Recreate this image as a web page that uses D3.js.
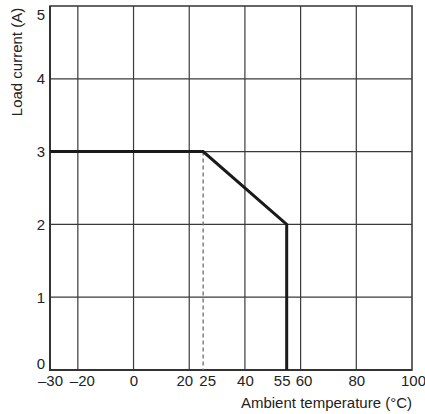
<!doctype html>
<html lang="en">
<head>
  <meta charset="UTF-8">
  <title>Load current vs ambient temperature</title>
  <script src="https://cdnjs.cloudflare.com/ajax/libs/d3/7.8.5/d3.min.js"></script>
  <style>
  html, body { margin: 0; padding: 0; background: #fff; }
  svg { display: block; font-family: "Liberation Sans", Arial, Helvetica, sans-serif; }
  </style>
</head>
<body>
<script>

// derating curve: [ambient temperature, load current]
var curveTemp = [-30, 25, 55, 55];
var curveCurrent = [3, 3, 2, 0];

// dashed marker at 25 °C
var markerTemp = [25, 25];
var markerCurrent = [3, 0];

var xTicks = [-30, -20, 0, 20, 25, 40, 55, 60, 80, 100];
var xGrid = [-20, 0, 20, 40, 60, 80];
var yTicks = [0, 1, 2, 3, 4, 5];
var yGrid = [1, 2, 3, 4];

var w = 425;
var h = 414;
var margin = {top: 6, right: 13, bottom: 44, left: 50};

var x = d3.scaleLinear().domain([-30, 100]).range([margin.left, w - margin.right]);
var y = d3.scaleLinear().domain([0, 5]).range([h - margin.bottom, margin.top]);

var svg = d3.select('body')
  .append('svg')
  .attr('width', w)
  .attr('height', h);

// grid
svg.append('g')
  .selectAll('line')
  .data(xGrid)
  .enter()
  .append('line')
  .attr('x1', function(d) { return x(d); })
  .attr('x2', function(d) { return x(d); })
  .attr('y1', y(0))
  .attr('y2', y(5))
  .attr('stroke', '#3a3a3a')
  .attr('stroke-width', 1.2);

svg.append('g')
  .selectAll('line')
  .data(yGrid)
  .enter()
  .append('line')
  .attr('x1', x(-30))
  .attr('x2', x(100))
  .attr('y1', function(d) { return y(d); })
  .attr('y2', function(d) { return y(d); })
  .attr('stroke', '#3a3a3a')
  .attr('stroke-width', 1.2);

// frame
svg.append('rect')
  .attr('x', x(-30))
  .attr('y', y(5))
  .attr('width', x(100) - x(-30))
  .attr('height', y(0) - y(5))
  .attr('fill', 'none')
  .attr('stroke', '#333')
  .attr('stroke-width', 1.5);

svg.append('path')
  .attr('d', 'M' + x(-30) + ',' + y(5) + 'V' + y(0) + 'H' + x(100))
  .attr('fill', 'none')
  .attr('stroke', '#333')
  .attr('stroke-width', 2);

// dashed marker
svg.append('path')
  .datum(d3.zip(markerTemp, markerCurrent))
  .attr('d', d3.line().x(function(d) { return x(d[0]); }).y(function(d) { return y(d[1]); }))
  .attr('fill', 'none')
  .attr('stroke', '#777')
  .attr('stroke-width', 1.4)
  .attr('stroke-dasharray', '4,3');

// curve
svg.append('path')
  .datum(d3.zip(curveTemp, curveCurrent))
  .attr('d', d3.line().x(function(d) { return x(d[0]); }).y(function(d) { return y(d[1]); }))
  .attr('fill', 'none')
  .attr('stroke', '#1a1a1a')
  .attr('stroke-width', 3)
  .attr('stroke-linejoin', 'miter');

// axes (labels only)
var nudge = {'-20': 4, '20': -5, '25': 4, '55': -5, '60': 3, '100': 1};

var xAxis = svg.append('g')
  .attr('transform', 'translate(0,' + y(0) + ')')
  .call(d3.axisBottom(x).tickValues(xTicks).tickSize(0).tickPadding(5)
    .tickFormat(function(d) { return d < 0 ? '\u2013' + Math.abs(d) : d; }));
xAxis.select('.domain').remove();
xAxis.selectAll('text')
  .attr('font-size', 15)
  .attr('fill', '#222')
  .attr('dx', function(d) { return nudge[d] || 0; });

var yAxis = svg.append('g')
  .attr('transform', 'translate(' + x(-30) + ',0)')
  .call(d3.axisLeft(y).tickValues(yTicks).tickSize(0).tickPadding(5)
    .tickFormat(d3.format('d')));
yAxis.select('.domain').remove();
yAxis.selectAll('text')
  .attr('font-size', 15)
  .attr('fill', '#222')
  .attr('dy', function(d) {
    if (d === 0) return '-0.12em';
    if (d === 5) return '0.9em';
    return '0.32em';
  });

// axis titles
svg.append('text')
  .text('Ambient temperature (\u00b0C)')
  .attr('x', x(100))
  .attr('y', 408)
  .attr('text-anchor', 'end')
  .attr('font-size', 15)
  .attr('fill', '#222');

svg.append('text')
  .text('Load current (A)')
  .attr('transform', 'translate(22,62) rotate(-90)')
  .attr('text-anchor', 'middle')
  .attr('font-size', 15)
  .attr('fill', '#222');

</script>
</body>
</html>
